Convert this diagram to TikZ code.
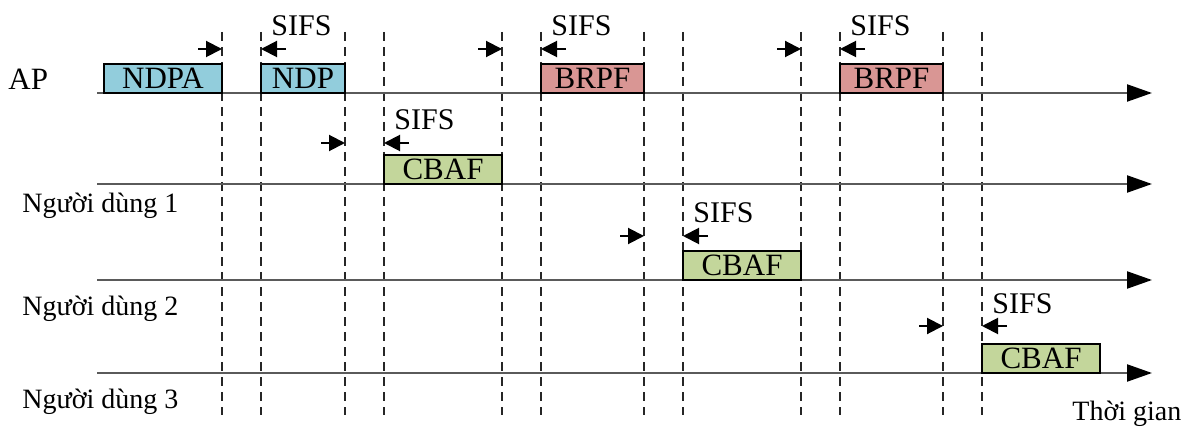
\documentclass[tikz,border=0pt]{standalone}
\usepackage{fontspec}
\setmainfont{Liberation Serif}
\usetikzlibrary{arrows.meta}
\definecolor{ndpblue}{HTML}{92CDDC}
\definecolor{brpfred}{HTML}{D99694}
\definecolor{cbafgreen}{HTML}{C3D69B}
\definecolor{axisgray}{HTML}{5A5A5A}
\begin{document}
\begin{tikzpicture}[x=0.5pt,y=-0.5pt,
  frame/.style={draw=black, line width=1pt, anchor=south west, inner sep=0pt, outer sep=0pt, minimum height=14.5pt, font=\fontsize{15.5}{17}\selectfont},
  timeline/.style={draw=axisgray, line width=1.1pt, -{Triangle[length=12.5pt,width=8.5pt,color=black,fill=black]}},
  guide/.style={draw=black!85, line width=0.6pt, dash pattern=on 4.5pt off 3pt},
  sifsarrow/.style={draw=black, line width=1pt, -{Triangle[length=8pt,width=8pt]}},
  lbl/.style={anchor=base west, inner sep=0pt, font=\fontsize{14}{16}\selectfont},
  sifslbl/.style={anchor=base west, inner sep=0pt, font=\fontsize{15}{17}\selectfont}
]
\useasboundingbox (0,0) rectangle (1182,427);
% dashed guides
\foreach \i/\x in {1/222,2/261,3/345,4/384,5/502,6/541,7/644,8/683,9/801,10/840,11/943,12/982}{
  \coordinate (dt\i) at (\x,32);
  \coordinate (db\i) at (\x,415);
  \draw[guide] (dt\i) -- (db\i);
}
% timelines
\foreach \n/\y in {ap/93,u1/184,u2/280,u3/373}{
  \coordinate (\n s) at (97,\y);
  \coordinate (\n e) at (1152,\y);
  \draw[timeline] (\n s) -- (\n e);
}
% SIFS markers
\foreach \k/\r/\l/\y in {a/222/261/49,b/502/541/49,c/801/840/49,d/345/384/143,e/644/683/236,f/943/982/326}{
  \coordinate (ra\k) at (\r-24,\y);
  \coordinate (rb\k) at (\r,\y);
  \coordinate (la\k) at (\l+25,\y);
  \coordinate (lb\k) at (\l,\y);
  \draw[sifsarrow] (ra\k) -- (rb\k);
  \draw[sifsarrow] (la\k) -- (lb\k);
  \node[sifslbl] (sifs\k) at (\l+10,\y-13) {SIFS};
}
% frames
\node[frame, fill=ndpblue, minimum width=59pt] (ndpa) at (104,93) {NDPA};
\node[frame, fill=ndpblue, minimum width=42pt] (ndp) at (261,93) {NDP};
\node[frame, fill=brpfred, minimum width=51.5pt] (brpf1) at (541,93) {BRPF};
\node[frame, fill=brpfred, minimum width=51.5pt] (brpf2) at (840,93) {BRPF};
\node[frame, fill=cbafgreen, minimum width=59pt] (cbaf1) at (384,184) {CBAF};
\node[frame, fill=cbafgreen, minimum width=59pt] (cbaf2) at (683,280) {CBAF};
\node[frame, fill=cbafgreen, minimum width=59pt] (cbaf3) at (982,373) {CBAF};
% labels
\node[sifslbl, font=\fontsize{15.5}{17}\selectfont] (lap) at (8,90) {AP};
\node[lbl] (lu1) at (22,213) {Người dùng 1};
\node[lbl] (lu2) at (22,315) {Người dùng 2};
\node[lbl] (lu3) at (22,408) {Người dùng 3};
\node[lbl] (ltime) at (1072,420) {Thời gian};
\end{tikzpicture}
\end{document}
